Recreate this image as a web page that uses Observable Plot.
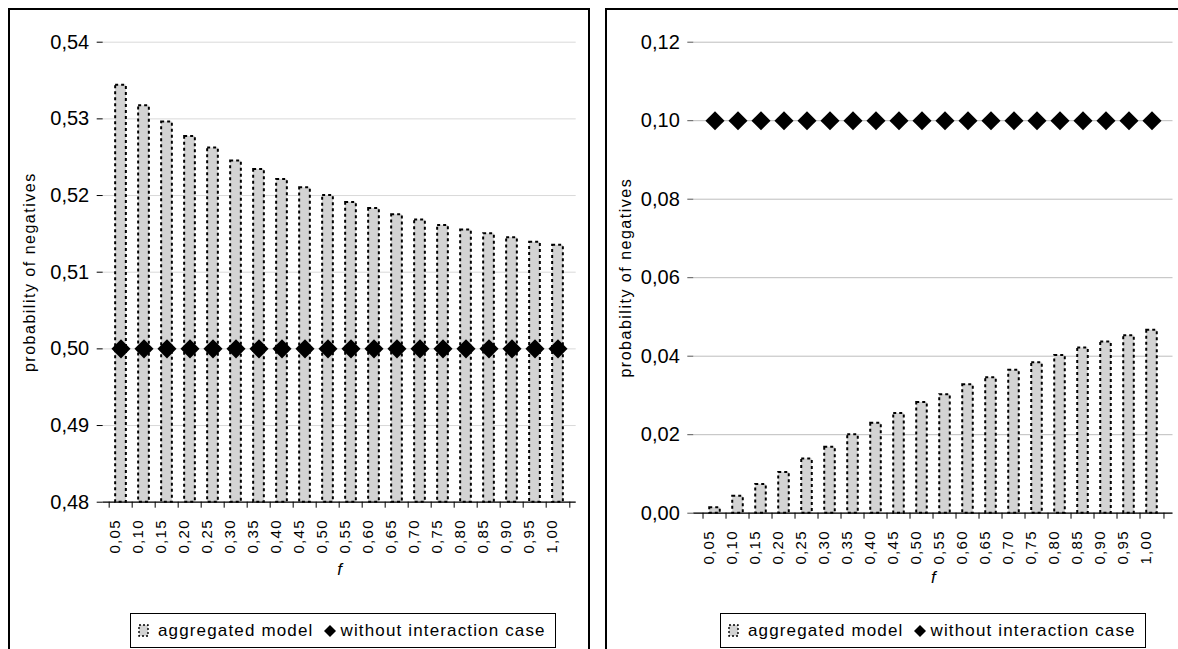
<!DOCTYPE html>
<html>
<head>
<meta charset="utf-8">
<script src="https://cdn.jsdelivr.net/npm/d3@7"></script>
<script src="https://cdn.jsdelivr.net/npm/@observablehq/plot@0.6"></script>
<style>
  html, body { margin: 0; padding: 0; background: white; overflow: hidden; }
  body { width: 1178px; height: 649px; position: relative; font-family: "Liberation Sans", Arial, sans-serif; }
  .frame { position: absolute; border: 2px solid #000; box-sizing: border-box; }
  .holder { position: absolute; top: 0; }
  .legend { position: absolute; width: 426px; height: 35px; border: 1px solid #000; box-sizing: border-box;
            background: white; display: flex; align-items: center; padding-left: 7px;
            font-size: 17px; letter-spacing: 1.15px; color: #000; white-space: nowrap; }
  .legend svg { display: block; }
</style>
</head>
<body>
<div class="frame" style="left:8px; top:8px; width:582px; height:700px;"></div>
<div class="frame" style="left:605px; top:8px; width:700px; height:700px;"></div>
<div class="holder" id="left" style="left:0px;"></div>
<div class="holder" id="right" style="left:600px;"></div>
<script>
// ---- data ----
const fLabels = ["0,05","0,10","0,15","0,20","0,25","0,30","0,35","0,40","0,45","0,50",
                 "0,55","0,60","0,65","0,70","0,75","0,80","0,85","0,90","0,95","1,00"];
const aggLeft = [0.5344, 0.5317, 0.5296, 0.5277, 0.5262, 0.5245, 0.5234, 0.5221, 0.5210, 0.5200,
                 0.5191, 0.5183, 0.5175, 0.5168, 0.5161, 0.5155, 0.5150, 0.5145, 0.5139, 0.5135];
const noIntLeft = [0.50, 0.50, 0.50, 0.50, 0.50, 0.50, 0.50, 0.50, 0.50, 0.50,
                   0.50, 0.50, 0.50, 0.50, 0.50, 0.50, 0.50, 0.50, 0.50, 0.50];
const aggRight = [0.0014, 0.0043, 0.0073, 0.0104, 0.0138, 0.0168, 0.0200, 0.0229, 0.0254, 0.0282,
                  0.0302, 0.0327, 0.0345, 0.0364, 0.0383, 0.0402, 0.0421, 0.0436, 0.0452, 0.0466];
const noIntRight = [0.10, 0.10, 0.10, 0.10, 0.10, 0.10, 0.10, 0.10, 0.10, 0.10,
                    0.10, 0.10, 0.10, 0.10, 0.10, 0.10, 0.10, 0.10, 0.10, 0.10];
const yTicksLeft = [0.48, 0.49, 0.50, 0.51, 0.52, 0.53, 0.54];
const yTicksRight = [0.00, 0.02, 0.04, 0.06, 0.08, 0.10, 0.12];
const yLabel = "probability of negatives";
const xLabel = "f";
const legendAgg = "aggregated model";
const legendNoInt = "without interaction case";

const fmt = d => d3.format(".2f")(d).replace(".", ",");

function panel(o) {
  const data = fLabels.map((f, i) => ({f, agg: o.agg[i], w: o.noInt[i]}));
  const frameH = o.height - o.mt - o.mb;
  const step = (o.width - o.ml - o.mr) / fLabels.length;
  const inset = step * 0.26;
  const y0 = o.yTicks[0];
  const plot = Plot.plot({
    width: o.width, height: o.height,
    marginLeft: o.ml, marginRight: o.mr, marginTop: o.mt, marginBottom: o.mb,
    style: {background: "transparent", fontFamily: "'Liberation Sans', Arial, sans-serif", color: "black", overflow: "visible"},
    x: {type: "band", domain: fLabels, padding: 0, axis: null},
    y: {domain: [o.yTicks[0], o.yTicks[o.yTicks.length - 1]]},
    marks: [
      Plot.gridY(o.yTicks, {stroke: o.gridColor, strokeOpacity: 1}),
      Plot.barY(data, {x: "f", y1: () => y0, y2: "agg", insetLeft: inset, insetRight: inset, fill: "#d3d3d3",
                       stroke: "black", strokeWidth: 2, strokeDasharray: "3,3"}),
      Plot.dot(data, {x: "f", y: "w", symbol: "diamond2", r: 8.6, fill: "black", stroke: "none"}),
      Plot.ruleY([y0], {stroke: "black", strokeWidth: 1.2}),
      Plot.ruleX(fLabels, {x: d => d, dx: -step / 2, insetTop: frameH, insetBottom: -6, stroke: "black"}),
      Plot.ruleX([fLabels[fLabels.length - 1]], {x: d => d, dx: step / 2, insetTop: frameH, insetBottom: -6, stroke: "black"}),
      Plot.axisY(o.yTicks, {tickSize: 6, tickPadding: 8, tickFormat: fmt, fontSize: 20, line: true, label: null, stroke: o.axisColor}),
      // x tick labels (rotated), drawn through the band scale
      Plot.text(fLabels, {x: d => d, frameAnchor: "bottom", dy: 17, dx: -1, rotate: -90, textAnchor: "end", fontSize: 15}),
      Plot.text([xLabel], {frameAnchor: "bottom", dy: o.fdy, fontSize: 17, fontStyle: "italic"}),
      Plot.text([yLabel], {frameAnchor: "left", dx: o.ydx, rotate: -90, textAnchor: "middle", fontSize: 16})
    ]
  });
  const groups = d3.select(plot).selectAll("g[aria-label='text']").nodes();
  if (groups[0]) d3.select(groups[0]).selectAll("text").style("letter-spacing", "1.3px");
  if (groups[2]) d3.select(groups[2]).selectAll("text").style("letter-spacing", "1.5px");
  return plot;
}

document.getElementById("left").appendChild(panel({
  agg: aggLeft, noInt: noIntLeft, yTicks: yTicksLeft,
  width: 590, height: 600, ml: 102.7, mr: 14.3, mt: 41.7, mb: 98.3,
  gridColor: "#d9d9d9", axisColor: "black", fdy: 73, ydx: -73
}));
document.getElementById("right").appendChild(panel({
  agg: aggRight, noInt: noIntRight, yTicks: yTicksRight,
  width: 578, height: 600, ml: 93.3, mr: 5.5, mt: 41.7, mb: 87.3,
  gridColor: "#bdbdbd", axisColor: "#555", fdy: 70, ydx: -68
}));

function legend(left) {
  const div = document.createElement("div");
  div.className = "legend";
  div.style.left = left + "px";
  div.style.top = "613px";
  div.innerHTML =
    `<svg width="12" height="13" style="margin-right:8px"><rect x="1" y="1" width="9" height="11" fill="#d3d3d3" stroke="black" stroke-width="1.4" stroke-dasharray="2,2"/></svg>` +
    `<span>${legendAgg}</span>` +
    `<svg width="14" height="14" style="margin-left:10px;margin-right:3px"><polygon points="7,1 13,7 7,13 1,7" fill="black"/></svg>` +
    `<span>${legendNoInt}</span>`;
  document.body.appendChild(div);
}
legend(130);
legend(720);
</script>
</body>
</html>
